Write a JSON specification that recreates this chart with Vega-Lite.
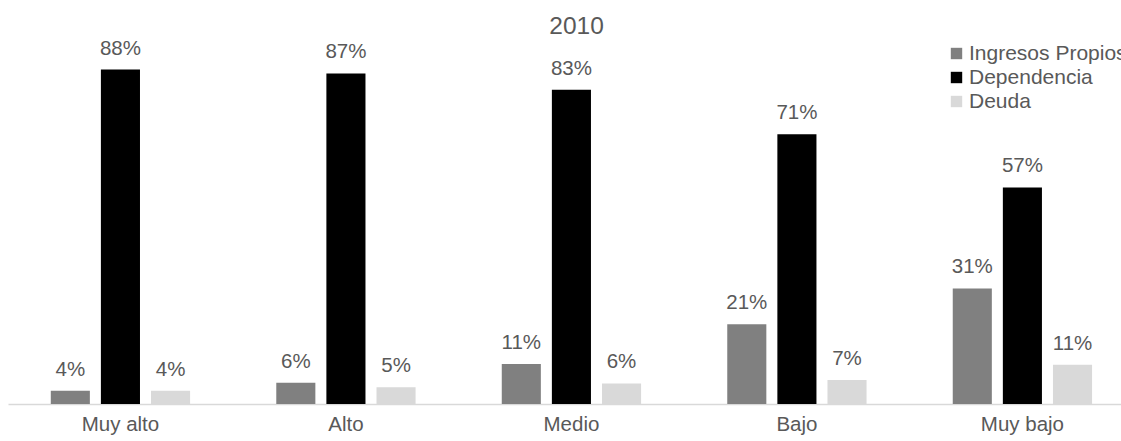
{
  "$schema": "https://vega.github.io/schema/vega-lite/v6.json",
  "width": 1113,
  "height": 362,
  "autosize": {"type": "none"},
  "padding": {"left": 8, "top": 42, "right": 0, "bottom": 37},
  "background": "white",
  "title": {
    "text": "2010",
    "fontSize": 24.5,
    "font": "Liberation Sans",
    "fontWeight": "normal",
    "color": "#595959",
    "dx": 12,
    "offset": -1
  },
  "data": {
    "values": [
      {"nivel": "Muy alto", "serie": "Ingresos Propios", "valor": 3.5, "etiqueta": "4%"},
      {"nivel": "Muy alto", "serie": "Dependencia", "valor": 88, "etiqueta": "88%"},
      {"nivel": "Muy alto", "serie": "Deuda", "valor": 3.5, "etiqueta": "4%"},
      {"nivel": "Alto", "serie": "Ingresos Propios", "valor": 5.6, "etiqueta": "6%"},
      {"nivel": "Alto", "serie": "Dependencia", "valor": 87, "etiqueta": "87%"},
      {"nivel": "Alto", "serie": "Deuda", "valor": 4.4, "etiqueta": "5%"},
      {"nivel": "Medio", "serie": "Ingresos Propios", "valor": 10.5, "etiqueta": "11%"},
      {"nivel": "Medio", "serie": "Dependencia", "valor": 82.7, "etiqueta": "83%"},
      {"nivel": "Medio", "serie": "Deuda", "valor": 5.4, "etiqueta": "6%"},
      {"nivel": "Bajo", "serie": "Ingresos Propios", "valor": 21, "etiqueta": "21%"},
      {"nivel": "Bajo", "serie": "Dependencia", "valor": 71, "etiqueta": "71%"},
      {"nivel": "Bajo", "serie": "Deuda", "valor": 6.3, "etiqueta": "7%"},
      {"nivel": "Muy bajo", "serie": "Ingresos Propios", "valor": 30.4, "etiqueta": "31%"},
      {"nivel": "Muy bajo", "serie": "Dependencia", "valor": 57, "etiqueta": "57%"},
      {"nivel": "Muy bajo", "serie": "Deuda", "valor": 10.3, "etiqueta": "11%"}
    ]
  },
  "encoding": {
    "x": {
      "field": "nivel",
      "type": "nominal",
      "sort": ["Muy alto", "Alto", "Medio", "Bajo", "Muy bajo"],
      "scale": {"paddingInner": 0.3333, "paddingOuter": 0.1346, "align": 0.614},
      "axis": {
        "title": null,
        "labelAngle": 0,
        "labelFont": "Liberation Sans",
        "labelFontSize": 20.5,
        "labelColor": "#595959",
        "labelPadding": 10,
        "ticks": false,
        "domainColor": "#d9d9d9",
        "domainWidth": 1.5,
        "grid": false
      }
    },
    "xOffset": {
      "field": "serie",
      "type": "nominal",
      "sort": ["Ingresos Propios", "Dependencia", "Deuda"],
      "scale": {"paddingInner": 0.22, "paddingOuter": 0.11}
    },
    "y": {
      "field": "valor",
      "type": "quantitative",
      "scale": {"domain": [0, 95.26], "nice": false},
      "axis": null
    }
  },
  "layer": [
    {
      "mark": {"type": "bar"},
      "encoding": {
        "color": {
          "field": "serie",
          "type": "nominal",
          "sort": ["Ingresos Propios", "Dependencia", "Deuda"],
          "scale": {
            "domain": ["Ingresos Propios", "Dependencia", "Deuda"],
            "range": ["#808080", "#000000", "#d9d9d9"]
          },
          "legend": {
            "orient": "none",
            "legendX": 938,
            "legendY": 1,
            "title": null,
            "symbolType": "square",
            "symbolSize": 130,
            "symbolStrokeWidth": 0,
            "labelFont": "Liberation Sans",
            "labelFontSize": 21,
            "labelColor": "#595959",
            "labelOffset": 2,
            "labelLimit": 400,
            "rowPadding": 2,
            "padding": 0
          }
        }
      }
    },
    {
      "mark": {
        "type": "text",
        "dy": -15,
        "align": "center",
        "baseline": "alphabetic",
        "font": "Liberation Sans",
        "fontSize": 20.5,
        "color": "#595959"
      },
      "encoding": {
        "text": {"field": "etiqueta", "type": "nominal"}
      }
    }
  ],
  "config": {
    "view": {"stroke": null}
  }
}
